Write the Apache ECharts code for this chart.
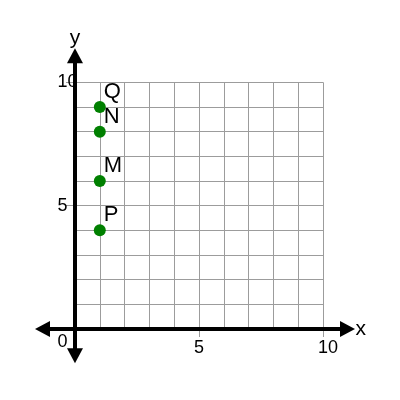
<!DOCTYPE html>
<html>
<head>
<meta charset="utf-8">
<script src="https://cdn.jsdelivr.net/npm/echarts@6/dist/echarts.min.js"></script>
<style>
html,body{margin:0;padding:0;background:#fff;}
#chart{width:400px;height:400px;}
</style>
</head>
<body>
<div id="chart"></div>
<script>
// Data
const pointNames = ['P', 'M', 'N', 'Q'];
const pointX = [1, 1, 1, 1];
const pointY = [4, 6, 8, 9];
const axisMin = 0;
const axisMax = 10;
const tickStep = 5;
const gridStep = 1;
const axisNames = ['x', 'y'];

const FONT = 'Liberation Sans, Arial, Helvetica, sans-serif';
const GRID_COLOR = '#9c9c9c';

const chart = echarts.init(document.getElementById('chart'), null, { renderer: 'canvas' });

const points = pointNames.map((n, i) => ({ name: n, value: [pointX[i], pointY[i]] }));

const option = {
  backgroundColor: '#fff',
  animation: false,
  grid: [
    { left: 75, right: 77, top: 82.3, bottom: 71, containLabel: false, outerBoundsMode: 'none' },
    { left: 42.5, right: 52.5, top: 55.8, bottom: 44.2, containLabel: false, outerBoundsMode: 'none' }
  ],
  xAxis: [
    {
      type: 'value', gridIndex: 0, min: axisMin, max: axisMax, interval: tickStep,
      axisLine: { show: false },
      axisTick: { show: true, length: 8, lineStyle: { color: GRID_COLOR, width: 1 } },
      axisLabel: {
        margin: 10.5,
        formatter: v => (v === 0 ? '' : '{a|' + v + '}'),
        rich: { a: { width: 10, align: 'left', fontSize: 18, fontFamily: FONT, color: '#000' } }
      },
      splitLine: { show: true, lineStyle: { color: GRID_COLOR, width: 1 } },
      minorTick: { show: false, splitNumber: tickStep / gridStep },
      minorSplitLine: { show: true, lineStyle: { color: GRID_COLOR, width: 1 } }
    },
    {
      type: 'value', gridIndex: 1, min: -1.31, max: 10.99, z: 5,
      name: axisNames[0], nameLocation: 'end', nameGap: 8,
      nameTextStyle: { fontSize: 21, fontFamily: FONT, color: '#000', align: 'left', verticalAlign: 'middle' },
      axisLine: {
        show: true, onZero: true,
        symbol: ['triangle', 'triangle'], symbolSize: [16, 15],
        lineStyle: { color: '#000', width: 4 }
      },
      axisTick: { show: false }, axisLabel: { show: false }, splitLine: { show: false }
    }
  ],
  yAxis: [
    {
      type: 'value', gridIndex: 0, min: axisMin, max: axisMax, interval: tickStep,
      axisLine: { show: false },
      axisTick: { show: true, length: 9, lineStyle: { color: GRID_COLOR, width: 1 } },
      axisLabel: {
        margin: 17.5, align: 'left', lineHeight: 27,
        fontSize: 18, fontFamily: FONT, color: '#000',
        formatter: v => (v === 0 ? '\n0' : String(v))
      },
      splitLine: { show: true, lineStyle: { color: GRID_COLOR, width: 1 } },
      minorTick: { show: false, splitNumber: tickStep / gridStep },
      minorSplitLine: { show: true, lineStyle: { color: GRID_COLOR, width: 1 } }
    },
    {
      type: 'value', gridIndex: 1, min: -1.09, max: 11.07, z: 5,
      name: axisNames[1], nameLocation: 'end', nameGap: 7,
      nameTextStyle: { fontSize: 21, fontFamily: FONT, color: '#000' },
      axisLine: {
        show: true, onZero: true,
        symbol: ['triangle', 'triangle'], symbolSize: [16, 15],
        lineStyle: { color: '#000', width: 4 }
      },
      axisTick: { show: false }, axisLabel: { show: false }, splitLine: { show: false }
    }
  ],
  series: [
    {
      type: 'scatter', xAxisIndex: 0, yAxisIndex: 0, z: 6,
      symbol: 'circle', symbolSize: 12,
      itemStyle: { color: '#008000', opacity: 1 },
      label: {
        show: true, formatter: '{b}', position: [10, -9],
        align: 'left', verticalAlign: 'middle',
        fontSize: 22, fontFamily: FONT, color: '#000'
      },
      data: points
    }
  ]
};

chart.setOption(option);
</script>
</body>
</html>
